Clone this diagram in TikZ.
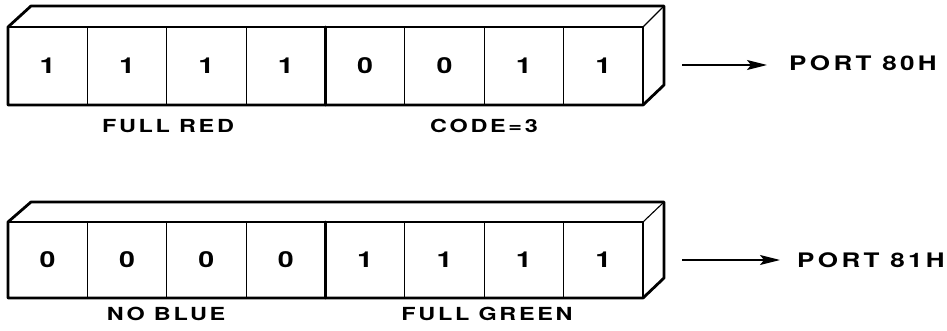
\documentclass[tikz,border=0pt]{standalone}
\usepackage{fontspec}
\setmainfont{TeX Gyre Heros}
\newfontfamily\digfont{TeX Gyre Heros}[FakeStretch=1.3]
\newfontfamily\lblfont{TeX Gyre Heros}[FakeStretch=1.3,LetterSpace=15]
\newfontfamily\prtfont{TeX Gyre Heros}[FakeStretch=1.3,LetterSpace=17]
\usetikzlibrary{arrows.meta}
\begin{document}
\begin{tikzpicture}[x=1pt,y=-1pt,
  cell/.style={draw, line width=1.1pt, minimum width=79.375pt, minimum height=78pt,
    inner sep=0pt, outer sep=0pt, font=\digfont\bfseries\fontsize{22}{22}\selectfont},
  outline/.style={line width=2.8pt, line join=round, line cap=round},
  thin/.style={line width=1.1pt},
  lbl/.style={font=\lblfont\bfseries\fontsize{18}{18}\selectfont, inner sep=0pt},
  prt/.style={font=\prtfont\bfseries\fontsize{20}{20}\selectfont, inner sep=0pt, anchor=west},
  arr/.style={line width=1.6pt, -{Stealth[length=20pt,width=10pt,inset=4pt]}}]
\useasboundingbox (0,0) rectangle (947,331);
\fill[white] (0,0) rectangle (947,331);
% top register
\foreach \v [count=\i] in {1,1,1,1,0,0,1,1}
  \node[cell] (a\i) at ({8+79.375*(\i-0.5)},66) {\v};
\draw[thin] (a8.north east) -- (664,6);
\draw[outline] (a1.north west) -- (31,6) -- (664,6) -- (664,85) -- (a8.south east) -- (a1.south west) -- cycle;
\draw[outline] (a4.north east) -- (a4.south east);
\node[lbl] (redlbl) at (168,126) {FULL RED};
\node[lbl] (codelbl) at (484,126) {CODE=3};
\coordinate (s1) at (682,65);
\node[prt] (p1) at (789,63) {PORT 80H};
\draw[arr, shorten >=22pt] (s1) -- (s1 -| p1.west);
% bottom register
\foreach \v [count=\i] in {0,0,0,0,1,1,1,1}
  \node[cell, minimum height=76pt] (b\i) at ({8+79.375*(\i-0.5)},260) {\v};
\draw[thin] (b8.north east) -- (664,202);
\draw[outline] (b1.north west) -- (31,202) -- (664,202) -- (664,278) -- (b8.south east) -- (b1.south west) -- cycle;
\draw[outline] (b4.north east) -- (b4.south east);
\node[lbl] (bluelbl) at (166,314) {NO BLUE};
\node[lbl] (greenlbl) at (487,314) {FULL GREEN};
\coordinate (s2) at (682,260);
\node[prt] (p2) at (797,260) {PORT 81H};
\draw[arr, shorten >=17pt] (s2) -- (s2 -| p2.west);
\end{tikzpicture}
\end{document}
